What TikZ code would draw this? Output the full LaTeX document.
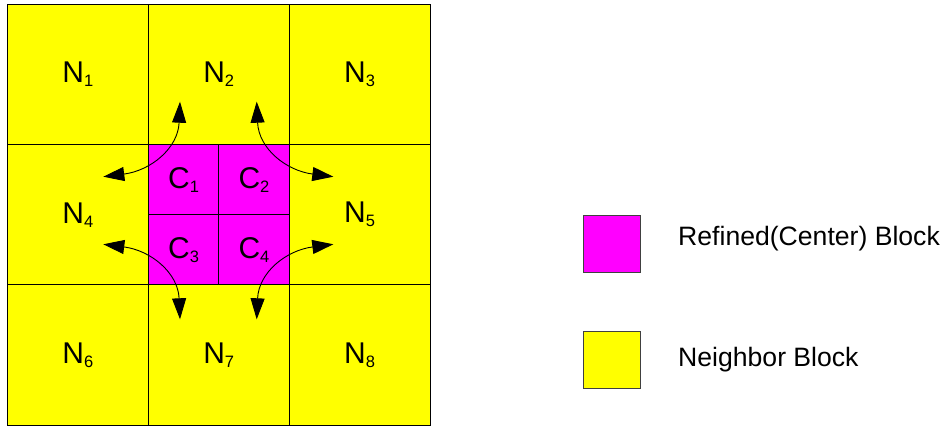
\documentclass[tikz,border=0pt]{standalone}
\usepackage{fontspec}
\setmainfont{Liberation Sans}
\usetikzlibrary{arrows.meta}
\definecolor{cyel}{HTML}{FFFF00}
\definecolor{cmag}{HTML}{FF00FF}
\newcommand\lab[2]{#1\raisebox{-4pt}{\fontsize{16.5}{16.5}\selectfont #2}}
\begin{document}
\begin{tikzpicture}[x=1pt,y=-1pt,
  cell/.style={draw=black,line width=0.9pt,fill=cyel,minimum width=140.8pt,minimum height=140.2pt,inner sep=0pt,font=\fontsize{30}{36}\selectfont},
  quad/.style={draw=black,line width=0.8pt,fill=cmag,minimum width=70.4pt,minimum height=70.1pt,inner sep=0pt,font=\fontsize{30}{36}\selectfont},
  legbox/.style={draw=black!75,line width=0.8pt,minimum width=57pt,minimum height=57pt,inner sep=0pt},
  legtext/.style={anchor=base west,inner sep=0pt,font=\fontsize{26.6}{30}\selectfont},
  flow/.style={line width=0.9pt,{Triangle[length=21pt,width=14pt]}-{Triangle[length=21pt,width=14pt]}}]
\useasboundingbox (0,0) rectangle (949,428);
% grid cells
\node[cell] (n1) at (77.9,74.6) {\lab{N}{1}};
\node[cell] (n2) at (218.75,74.6) {\lab{N}{2}};
\node[cell] (n3) at (359.6,74.6) {\lab{N}{3}};
\node[cell] (n4) at (77.9,214.75) {\lab{N}{4}};
\node[cell] (nc) at (218.75,214.75) {};
\node[cell] (n5) at (359.6,214.75) {\lab{N}{5}};
\node[cell] (n6) at (77.9,354.9) {\lab{N}{6}};
\node[cell] (n7) at (218.75,354.9) {\lab{N}{7}};
\node[cell] (n8) at (359.6,354.9) {\lab{N}{8}};
% center quadrants
\node[quad] (c1) at (183.55,179.7) {\lab{C}{1}};
\node[quad] (c2) at (253.95,179.7) {\lab{C}{2}};
\node[quad] (c3) at (183.55,249.8) {\lab{C}{3}};
\node[quad] (c4) at (253.95,249.8) {\lab{C}{4}};
% arrow ends
\coordinate (tlh) at (103.3,176.7);
\coordinate (tlv) at (180,101.7);
\coordinate (trh) at (333.3,176.7);
\coordinate (trv) at (256.7,101.7);
\coordinate (blh) at (103.3,244.3);
\coordinate (blv) at (180,319.3);
\coordinate (brh) at (333.3,244.3);
\coordinate (brv) at (256.7,319.3);
\draw[flow] (tlh) .. controls +(47,-6) and +(-2,47) .. (tlv);
\draw[flow] (trh) .. controls +(-47,-6) and +(2,47) .. (trv);
\draw[flow] (blh) .. controls +(47,6) and +(-2,-47) .. (blv);
\draw[flow] (brh) .. controls +(-47,6) and +(2,-47) .. (brv);
% legend
\node[legbox,fill=cmag] (lm) at (612.2,243.9) {};
\node[legbox,fill=cyel] (ly) at (612.2,360.2) {};
\node[legtext] (tm) at (678,245) {Refined(Center) Block};
\node[legtext] (ty) at (678,366.7) {Neighbor Block};
\end{tikzpicture}
\end{document}
